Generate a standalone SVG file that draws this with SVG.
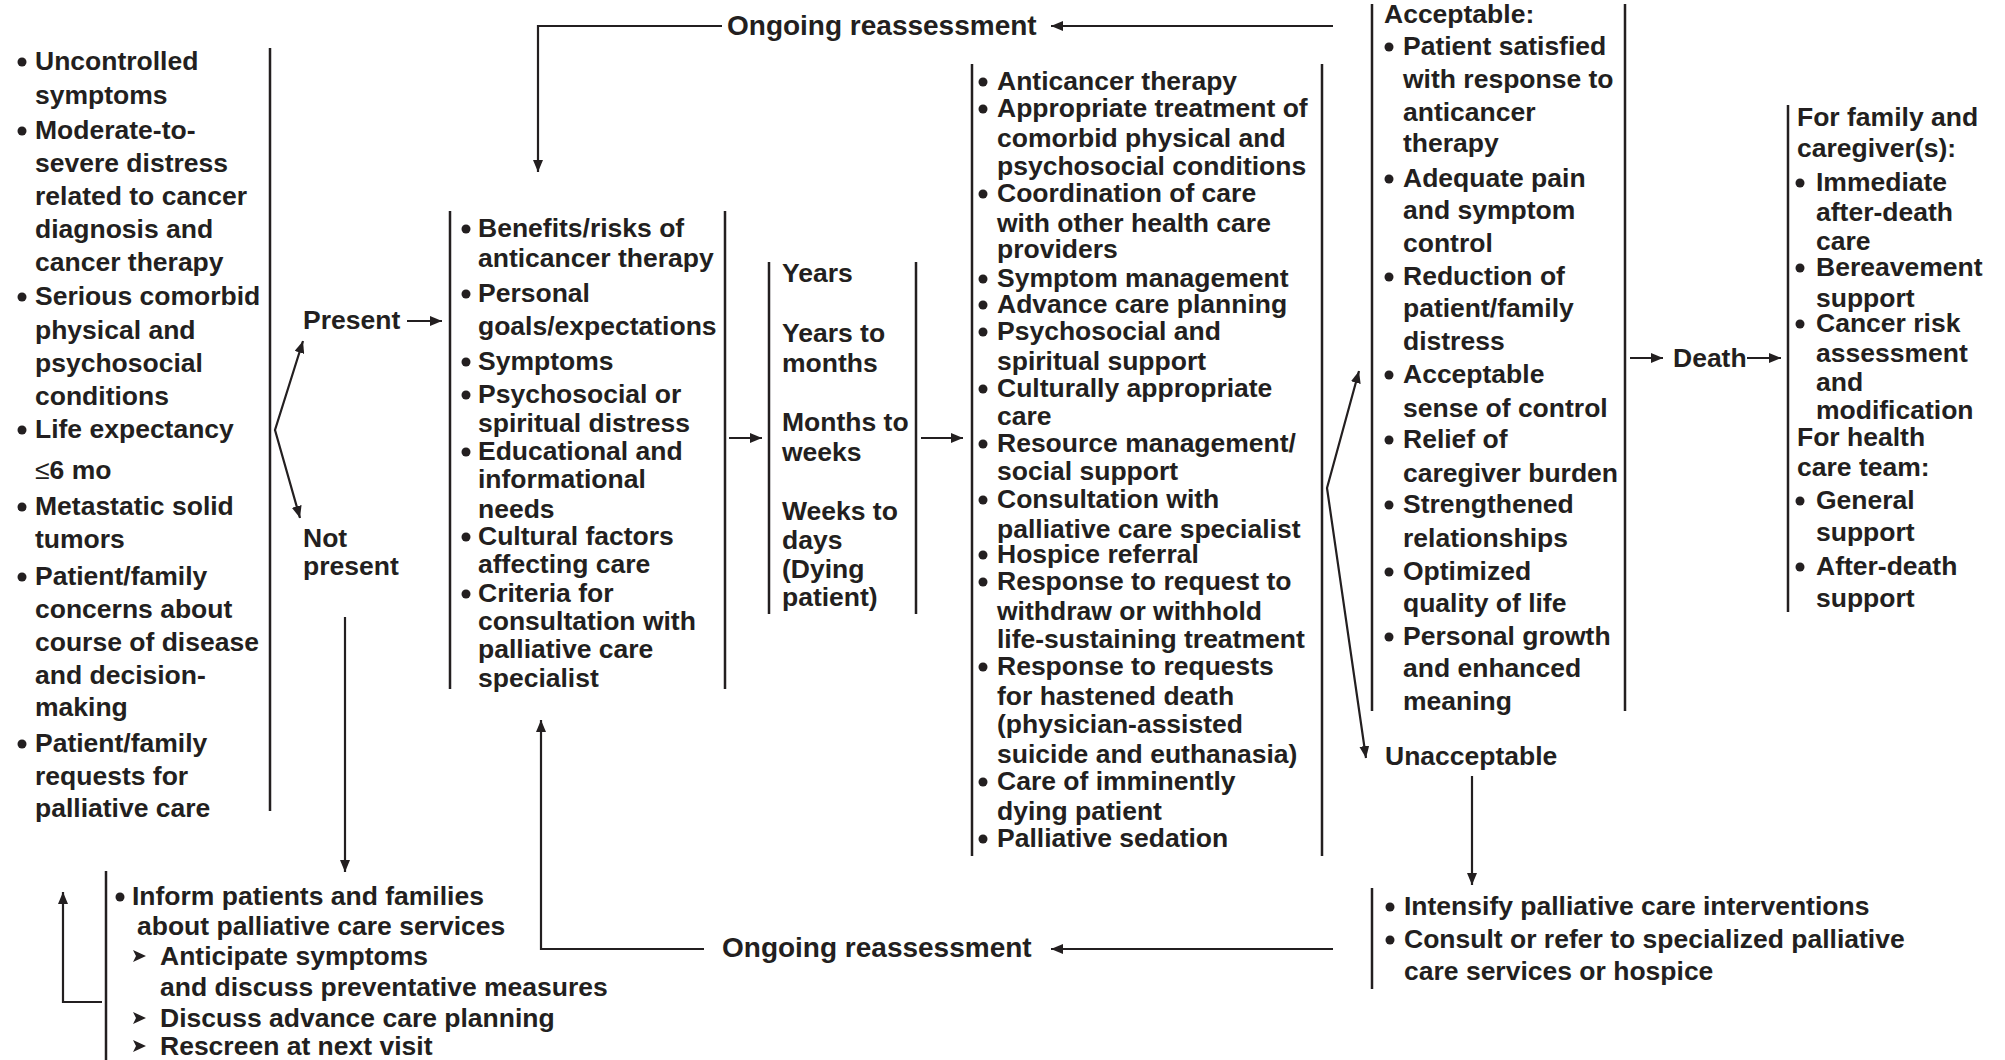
<svg xmlns="http://www.w3.org/2000/svg" width="2005" height="1060" viewBox="0 0 2005 1060">
<style>
text{font-family:"Liberation Sans",Arial,Helvetica,sans-serif;font-weight:bold;font-size:26.5px;fill:#231f20}
.big{font-size:28px}
.ln{stroke:#231f20;stroke-width:2.5;fill:none}
.ar{stroke:#231f20;stroke-width:2.2;fill:none;marker-end:url(#ah)}
.b{fill:#231f20}
</style>
<defs>
<marker id="ah" viewBox="0 0 12 10" refX="12" refY="5" markerWidth="12" markerHeight="10" markerUnits="userSpaceOnUse" orient="auto-start-reverse">
<path d="M0,0 L12,5 L0,10 z" fill="#231f20"/>
</marker>
<circle id="bu" r="4.5" cx="0" cy="0"/>
<path id="tri" d="M0,-6 L13,0 L0,6 L3,0 z"/>
</defs>
<rect width="2005" height="1060" fill="#fff"/>

<g id="connectors">
<line class="ln" x1="270" y1="48" x2="270" y2="811"/>
<path class="ar" d="M303,341 L275,430 L300,518" style="marker-start:url(#ah)"/>
<line class="ar" x1="407" y1="321" x2="442" y2="321"/>
<line class="ar" x1="345" y1="617" x2="345" y2="872"/>
<line class="ar" x1="729" y1="438" x2="762" y2="438"/>
<line class="ar" x1="921" y1="438" x2="963" y2="438"/>
<path class="ar" d="M1359,371 L1327,488 L1366,758" style="marker-start:url(#ah)"/>
<line class="ar" x1="1630" y1="358" x2="1663" y2="358"/>
<line class="ar" x1="1747" y1="358" x2="1781" y2="358"/>
<line class="ar" x1="1472" y1="776" x2="1472" y2="885"/>
<line class="ar" x1="1333" y1="26" x2="1051" y2="26"/>
<path class="ar" d="M722,26 L538,26 L538,172"/>
<line class="ar" x1="1333" y1="949" x2="1051" y2="949"/>
<path class="ar" d="M704,949 L541,949 L541,720"/>
<path class="ar" d="M102,1002 L63,1002 L63,892"/>
</g>

<g id="criteria">
<use href="#bu" class="b" x="22" y="62"/>
<use href="#bu" class="b" x="22" y="131"/>
<use href="#bu" class="b" x="22" y="297"/>
<use href="#bu" class="b" x="22" y="430"/>
<use href="#bu" class="b" x="22" y="507"/>
<use href="#bu" class="b" x="22" y="577"/>
<use href="#bu" class="b" x="22" y="744"/>
<text>
<tspan x="35" y="70">Uncontrolled</tspan>
<tspan x="35" y="104">symptoms</tspan>
<tspan x="35" y="139">Moderate-to-</tspan>
<tspan x="35" y="172">severe distress</tspan>
<tspan x="35" y="205">related to cancer</tspan>
<tspan x="35" y="238">diagnosis and</tspan>
<tspan x="35" y="271">cancer therapy</tspan>
<tspan x="35" y="305">Serious comorbid</tspan>
<tspan x="35" y="339">physical and</tspan>
<tspan x="35" y="372">psychosocial</tspan>
<tspan x="35" y="405">conditions</tspan>
<tspan x="35" y="438">Life expectancy</tspan>
<tspan x="35" y="479"><tspan font-weight="normal">≤</tspan>6 mo</tspan>
<tspan x="35" y="515">Metastatic solid</tspan>
<tspan x="35" y="548">tumors</tspan>
<tspan x="35" y="585">Patient/family</tspan>
<tspan x="35" y="618">concerns about</tspan>
<tspan x="35" y="651">course of disease</tspan>
<tspan x="35" y="684">and decision-</tspan>
<tspan x="35" y="716">making</tspan>
<tspan x="35" y="752">Patient/family</tspan>
<tspan x="35" y="785">requests for</tspan>
<tspan x="35" y="817">palliative care</tspan>
</text>
</g>

<g id="present"><text x="303" y="329">Present</text></g>
<g id="not-present"><text><tspan x="303" y="547">Not</tspan><tspan x="303" y="575">present</tspan></text></g>

<g id="assessment">
<line class="ln" x1="450" y1="211" x2="450" y2="689"/>
<line class="ln" x1="725" y1="211" x2="725" y2="689"/>
<use href="#bu" class="b" x="466" y="229"/>
<use href="#bu" class="b" x="466" y="294"/>
<use href="#bu" class="b" x="466" y="362"/>
<use href="#bu" class="b" x="466" y="395"/>
<use href="#bu" class="b" x="466" y="452"/>
<use href="#bu" class="b" x="466" y="537"/>
<use href="#bu" class="b" x="466" y="594"/>
<text>
<tspan x="478" y="237">Benefits/risks of</tspan>
<tspan x="478" y="267">anticancer therapy</tspan>
<tspan x="478" y="302">Personal</tspan>
<tspan x="478" y="335">goals/expectations</tspan>
<tspan x="478" y="370">Symptoms</tspan>
<tspan x="478" y="403">Psychosocial or</tspan>
<tspan x="478" y="432">spiritual distress</tspan>
<tspan x="478" y="460">Educational and</tspan>
<tspan x="478" y="488">informational</tspan>
<tspan x="478" y="518">needs</tspan>
<tspan x="478" y="545">Cultural factors</tspan>
<tspan x="478" y="573">affecting care</tspan>
<tspan x="478" y="602">Criteria for</tspan>
<tspan x="478" y="630">consultation with</tspan>
<tspan x="478" y="658">palliative care</tspan>
<tspan x="478" y="687">specialist</tspan>
</text>
</g>

<g id="prognosis">
<line class="ln" x1="769" y1="262" x2="769" y2="614"/>
<line class="ln" x1="916" y1="262" x2="916" y2="614"/>
<text>
<tspan x="782" y="282">Years</tspan>
<tspan x="782" y="342">Years to</tspan>
<tspan x="782" y="372">months</tspan>
<tspan x="782" y="431">Months to</tspan>
<tspan x="782" y="461">weeks</tspan>
<tspan x="782" y="520">Weeks to</tspan>
<tspan x="782" y="549">days</tspan>
<tspan x="782" y="578">(Dying</tspan>
<tspan x="782" y="606">patient)</tspan>
</text>
</g>

<g id="interventions">
<line class="ln" x1="972" y1="64" x2="972" y2="856"/>
<line class="ln" x1="1322" y1="64" x2="1322" y2="856"/>
<use href="#bu" class="b" x="983" y="82"/>
<use href="#bu" class="b" x="983" y="109"/>
<use href="#bu" class="b" x="983" y="194"/>
<use href="#bu" class="b" x="983" y="279"/>
<use href="#bu" class="b" x="983" y="305"/>
<use href="#bu" class="b" x="983" y="332"/>
<use href="#bu" class="b" x="983" y="389"/>
<use href="#bu" class="b" x="983" y="444"/>
<use href="#bu" class="b" x="983" y="500"/>
<use href="#bu" class="b" x="983" y="555"/>
<use href="#bu" class="b" x="983" y="582"/>
<use href="#bu" class="b" x="983" y="667"/>
<use href="#bu" class="b" x="983" y="782"/>
<use href="#bu" class="b" x="983" y="839"/>
<text>
<tspan x="997" y="90">Anticancer therapy</tspan>
<tspan x="997" y="117">Appropriate treatment of</tspan>
<tspan x="997" y="147">comorbid physical and</tspan>
<tspan x="997" y="175">psychosocial conditions</tspan>
<tspan x="997" y="202">Coordination of care</tspan>
<tspan x="997" y="232">with other health care</tspan>
<tspan x="997" y="258">providers</tspan>
<tspan x="997" y="287">Symptom management</tspan>
<tspan x="997" y="313">Advance care planning</tspan>
<tspan x="997" y="340">Psychosocial and</tspan>
<tspan x="997" y="370">spiritual support</tspan>
<tspan x="997" y="397">Culturally appropriate</tspan>
<tspan x="997" y="425">care</tspan>
<tspan x="997" y="452">Resource management/</tspan>
<tspan x="997" y="480">social support</tspan>
<tspan x="997" y="508">Consultation with</tspan>
<tspan x="997" y="538">palliative care specialist</tspan>
<tspan x="997" y="563">Hospice referral</tspan>
<tspan x="997" y="590">Response to request to</tspan>
<tspan x="997" y="620">withdraw or withhold</tspan>
<tspan x="997" y="648">life-sustaining treatment</tspan>
<tspan x="997" y="675">Response to requests</tspan>
<tspan x="997" y="705">for hastened death</tspan>
<tspan x="997" y="733">(physician-assisted</tspan>
<tspan x="997" y="763">suicide and euthanasia)</tspan>
<tspan x="997" y="790">Care of imminently</tspan>
<tspan x="997" y="820">dying patient</tspan>
<tspan x="997" y="847">Palliative sedation</tspan>
</text>
</g>

<g id="acceptable">
<line class="ln" x1="1372" y1="4" x2="1372" y2="711"/>
<line class="ln" x1="1625" y1="4" x2="1625" y2="711"/>
<use href="#bu" class="b" x="1389" y="47"/>
<use href="#bu" class="b" x="1389" y="179"/>
<use href="#bu" class="b" x="1389" y="277"/>
<use href="#bu" class="b" x="1389" y="375"/>
<use href="#bu" class="b" x="1389" y="440"/>
<use href="#bu" class="b" x="1389" y="505"/>
<use href="#bu" class="b" x="1389" y="572"/>
<use href="#bu" class="b" x="1389" y="637"/>
<text>
<tspan x="1384" y="23">Acceptable:</tspan>
<tspan x="1403" y="55">Patient satisfied</tspan>
<tspan x="1403" y="88">with response to</tspan>
<tspan x="1403" y="121">anticancer</tspan>
<tspan x="1403" y="152">therapy</tspan>
<tspan x="1403" y="187">Adequate pain</tspan>
<tspan x="1403" y="219">and symptom</tspan>
<tspan x="1403" y="252">control</tspan>
<tspan x="1403" y="285">Reduction of</tspan>
<tspan x="1403" y="317">patient/family</tspan>
<tspan x="1403" y="350">distress</tspan>
<tspan x="1403" y="383">Acceptable</tspan>
<tspan x="1403" y="417">sense of control</tspan>
<tspan x="1403" y="448">Relief of</tspan>
<tspan x="1403" y="482">caregiver burden</tspan>
<tspan x="1403" y="513">Strengthened</tspan>
<tspan x="1403" y="547">relationships</tspan>
<tspan x="1403" y="580">Optimized</tspan>
<tspan x="1403" y="612">quality of life</tspan>
<tspan x="1403" y="645">Personal growth</tspan>
<tspan x="1403" y="677">and enhanced</tspan>
<tspan x="1403" y="710">meaning</tspan>
</text>
</g>

<g id="unacceptable"><text x="1385" y="765">Unacceptable</text></g>

<g id="death"><text x="1673" y="367">Death</text></g>

<g id="after-death">
<line class="ln" x1="1788" y1="105" x2="1788" y2="612"/>
<use href="#bu" class="b" x="1800" y="183"/>
<use href="#bu" class="b" x="1800" y="268"/>
<use href="#bu" class="b" x="1800" y="324"/>
<use href="#bu" class="b" x="1800" y="501"/>
<use href="#bu" class="b" x="1800" y="567"/>
<text>
<tspan x="1797" y="126">For family and</tspan>
<tspan x="1797" y="157">caregiver(s):</tspan>
<tspan x="1816" y="191">Immediate</tspan>
<tspan x="1816" y="221">after-death</tspan>
<tspan x="1816" y="250">care</tspan>
<tspan x="1816" y="276">Bereavement</tspan>
<tspan x="1816" y="307">support</tspan>
<tspan x="1816" y="332">Cancer risk</tspan>
<tspan x="1816" y="362">assessment</tspan>
<tspan x="1816" y="391">and</tspan>
<tspan x="1816" y="419">modification</tspan>
<tspan x="1797" y="446">For health</tspan>
<tspan x="1797" y="476">care team:</tspan>
<tspan x="1816" y="509">General</tspan>
<tspan x="1816" y="541">support</tspan>
<tspan x="1816" y="575">After-death</tspan>
<tspan x="1816" y="607">support</tspan>
</text>
</g>

<g id="intensify">
<line class="ln" x1="1372" y1="888" x2="1372" y2="989"/>
<use href="#bu" class="b" x="1390" y="907"/>
<use href="#bu" class="b" x="1390" y="940"/>
<text>
<tspan x="1404" y="915">Intensify palliative care interventions</tspan>
<tspan x="1404" y="948">Consult or refer to specialized palliative</tspan>
<tspan x="1404" y="980">care services or hospice</tspan>
</text>
</g>

<g id="reassess-top"><text class="big" x="727" y="35">Ongoing reassessment</text></g>
<g id="reassess-bottom"><text class="big" x="722" y="957">Ongoing reassessment</text></g>

<g id="inform">
<line class="ln" x1="106" y1="871" x2="106" y2="1060"/>
<use href="#bu" class="b" x="120" y="897"/>
<use href="#tri" class="b" x="133" y="956"/>
<use href="#tri" class="b" x="133" y="1018"/>
<use href="#tri" class="b" x="133" y="1046"/>
<text>
<tspan x="132" y="905">Inform patients and families</tspan>
<tspan x="137" y="935">about palliative care services</tspan>
<tspan x="160" y="965">Anticipate symptoms</tspan>
<tspan x="160" y="996">and discuss preventative measures</tspan>
<tspan x="160" y="1027">Discuss advance care planning</tspan>
<tspan x="160" y="1055">Rescreen at next visit</tspan>
</text>
</g>
</svg>
